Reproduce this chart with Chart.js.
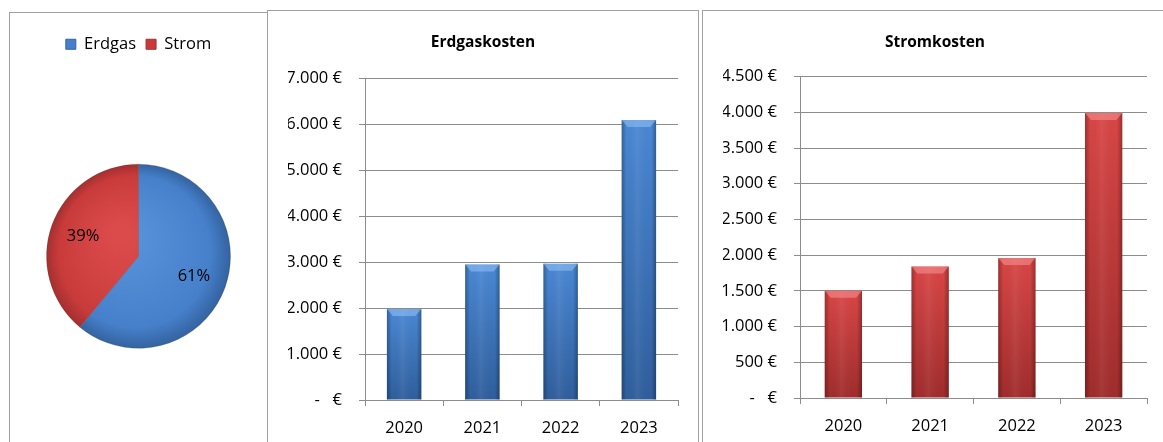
<!DOCTYPE html>
<html>
<head>
<meta charset="utf-8">
<script src="https://cdn.jsdelivr.net/npm/chart.js@4.4.1/dist/chart.umd.min.js"></script>
<style>
  html, body { margin: 0; padding: 0; background: #fff; width: 1163px; height: 442px; overflow: hidden; }
  .panel { position: absolute; border: 1px solid #a0a0a0; border-bottom: none; box-sizing: border-box; background: #fff; }
  .panel canvas { display: block; }
</style>
</head>
<body>
<div class="panel" id="p1" style="left:9px; top:12px; width:259px; height:442px;"><canvas id="pie" width="257" height="440"></canvas></div>
<div class="panel" id="p2" style="left:267px; top:10px; width:432px; height:442px;"><canvas id="gas" width="430" height="431"></canvas></div>
<div class="panel" id="p3" style="left:702px; top:10px; width:480px; height:442px; border-right:none;"><canvas id="strom" width="461" height="431"></canvas></div>
<script>
// ---- data ----
const shareLabels = ['Erdgas', 'Strom'];
const shareValues = [61, 39];

const years = ['2020', '2021', '2022', '2023'];
const gasCosts = [1980, 2950, 2970, 6100];
const stromCosts = [1500, 1840, 1960, 3990];

const gasTickLabels = ['-   €', '1.000 €', '2.000 €', '3.000 €', '4.000 €', '5.000 €', '6.000 €', '7.000 €'];
const stromTickLabels = ['-   €', '500 €', '1.000 €', '1.500 €', '2.000 €', '2.500 €', '3.000 €', '3.500 €', '4.000 €', '4.500 €'];

// ---- styling ----
const FONT = '"Open Sans", sans-serif';
const FS = 16.5;
Chart.defaults.font.family = FONT;
Chart.defaults.font.size = FS;
Chart.defaults.color = '#000';
Chart.defaults.animation = false;

const BLUE = { top: '#4a88d4', bottom: '#2f5e9c', cap: 'rgba(150,195,245,0.55)' };
const RED  = { top: '#d94646', bottom: '#a02c2c', cap: 'rgba(250,150,150,0.55)' };
const BARFRAC = 0.44;

function barFill(pal) {
  return (ctx) => {
    const chart = ctx.chart;
    const ys = chart.scales.y;
    if (!ys || ctx.type !== 'data' || !isFinite(ys.height)) return pal.top;
    const v = ctx.dataset.data[ctx.dataIndex];
    const yTop = ys.getPixelForValue(v), yBot = ys.getPixelForValue(0);
    const g = chart.ctx.createLinearGradient(0, yTop, 0, yBot);
    g.addColorStop(0, pal.top);
    g.addColorStop(1, pal.bottom);
    return g;
  };
}

const shadePlugin = {
  id: 'shade',
  afterDatasetsDraw(chart, args, opts) {
    const c = chart.ctx;
    chart.getDatasetMeta(0).data.forEach(bar => {
      const l = bar.x - bar.width / 2, r = bar.x + bar.width / 2, t = bar.y, b = bar.base;
      c.save();
      const g = c.createLinearGradient(l, 0, r, 0);
      g.addColorStop(0, 'rgba(0,0,0,0.28)');
      g.addColorStop(0.14, 'rgba(0,0,0,0)');
      g.addColorStop(0.45, 'rgba(255,255,255,0.06)');
      g.addColorStop(0.86, 'rgba(0,0,0,0)');
      g.addColorStop(1, 'rgba(0,0,0,0.3)');
      c.fillStyle = g;
      c.fillRect(l, t, r - l, b - t);
      c.beginPath();
      c.moveTo(l, t); c.lineTo(r, t); c.lineTo(r - 6, t + 7); c.lineTo(l + 6, t + 7); c.closePath();
      c.fillStyle = opts.color;
      c.fill();
      c.restore();
    });
  }
};

function barOptions(title, max, step, tickLabels, padLeft, padRight, yWidth, xHeight, titleTop, titleBottom, cap) {
  return {
    responsive: false,
    layout: { padding: { left: padLeft, right: padRight, top: 0, bottom: 0 } },
    plugins: {
      legend: { display: false },
      tooltip: { enabled: false },
      shade: { color: cap },
      title: { display: true, text: title, font: { family: FONT, size: 15.5, weight: 'bold' }, color: '#000',
               padding: { top: titleTop, bottom: titleBottom } }
    },
    scales: {
      x: {
        grid: { offset: true, drawOnChartArea: false, drawTicks: true, tickLength: 6, color: '#8c8c8c' },
        border: { display: true, color: '#8c8c8c', width: 1 },
        ticks: { padding: 12, font: { size: FS }, color: '#000' },
        afterFit(s) { s.height = xHeight; }
      },
      y: {
        min: 0, max: max,
        grid: { color: '#8c8c8c', tickLength: 6, lineWidth: 1 },
        border: { display: true, color: '#8c8c8c', width: 1 },
        ticks: { stepSize: step, padding: 17, font: { size: FS }, color: '#000',
                 callback: (v, i) => tickLabels[i] },
        afterFit(s) { s.width = yWidth; }
      }
    }
  };
}

new Chart(document.getElementById('gas'), {
  type: 'bar',
  data: { labels: years, datasets: [{ label: 'Erdgaskosten', data: gasCosts, backgroundColor: barFill(BLUE),
          categoryPercentage: 1, barPercentage: BARFRAC }] },
  options: barOptions('Erdgaskosten', 7000, 1000, gasTickLabels, 20, 20, 77, 42, 22, 27, BLUE.cap),
  plugins: [shadePlugin]
});

new Chart(document.getElementById('strom'), {
  type: 'bar',
  data: { labels: years, datasets: [{ label: 'Stromkosten', data: stromCosts, backgroundColor: barFill(RED),
          categoryPercentage: 1, barPercentage: 0.43 }] },
  options: barOptions('Stromkosten', 4500, 500, stromTickLabels, 20, 17, 77, 44, 22, 25, RED.cap),
  plugins: [shadePlugin]
});

// ---- pie ----
const PIE_COLORS = [
  { light: '#5893da', dark: '#33629f', flat: '#4680cb' },
  { light: '#dc4b4b', dark: '#a32f2f', flat: '#c93b3b' }
];
function pieFill(ctx) {
  const chart = ctx.chart;
  const pal = PIE_COLORS[ctx.dataIndex];
  const a = chart.chartArea;
  if (!a || ctx.type !== 'data') return pal.flat;
  const cx = (a.left + a.right) / 2, cy = (a.top + a.bottom) / 2;
  const r = Math.min(a.right - a.left, a.bottom - a.top) / 2;
  const g = chart.ctx.createRadialGradient(cx - r * 0.2, cy - r * 0.25, r * 0.1, cx, cy, r);
  g.addColorStop(0, pal.light);
  g.addColorStop(0.8, pal.flat);
  g.addColorStop(1, pal.dark);
  return g;
}
const pctPlugin = {
  id: 'pct',
  afterDatasetsDraw(chart) {
    const c = chart.ctx;
    const meta = chart.getDatasetMeta(0);
    const data = chart.data.datasets[0].data;
    const sum = data.reduce((s, v) => s + v, 0);
    meta.data.forEach((arc, i) => {
      const mid = (arc.startAngle + arc.endAngle) / 2;
      const rr = arc.outerRadius * 0.64;
      const x = arc.x + Math.cos(mid) * rr, y = arc.y + Math.sin(mid) * rr;
      c.save();
      c.font = FS + 'px ' + FONT;
      c.fillStyle = '#000';
      c.textAlign = 'center';
      c.textBaseline = 'middle';
      c.fillText(Math.round(data[i] / sum * 100) + '%', x, y);
      c.restore();
    });
  }
};
new Chart(document.getElementById('pie'), {
  type: 'pie',
  data: { labels: shareLabels, datasets: [{ data: shareValues, backgroundColor: pieFill,
          borderColor: 'rgba(60,60,60,0.25)', borderWidth: 1 }] },
  options: {
    responsive: false,
    layout: { padding: { left: 36, right: 36, top: 13, bottom: 3 } },
    plugins: {
      tooltip: { enabled: false },
      legend: { position: 'top', labels: { boxWidth: 10, boxHeight: 10, padding: 10, font: { size: FS }, color: '#000',
        generateLabels(chart) {
          return shareLabels.map((l, i) => ({ text: l, fillStyle: PIE_COLORS[i].flat, strokeStyle: PIE_COLORS[i].dark, lineWidth: 1, index: i, hidden: false }));
        } } }
    }
  },
  plugins: [pctPlugin]
});
</script>
</body>
</html>
